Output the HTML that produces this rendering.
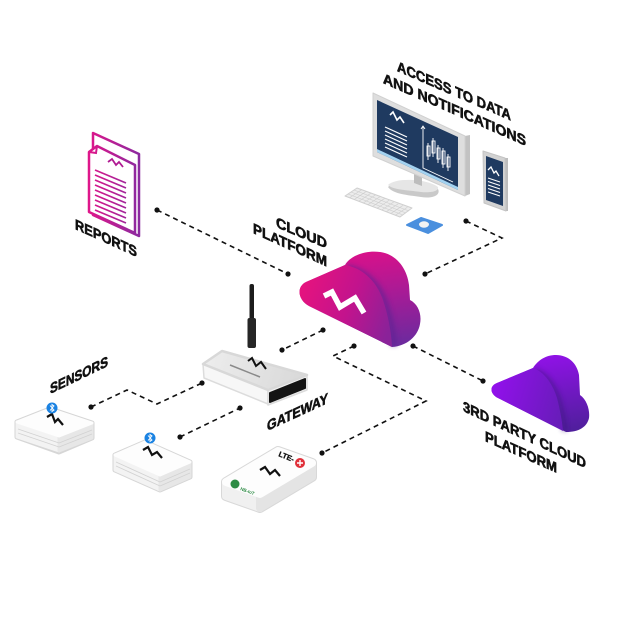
<!DOCTYPE html>
<html><head><meta charset="utf-8">
<style>html,body{margin:0;padding:0;background:#fff}svg{display:block}
text{font-family:"Liberation Sans",Arial,sans-serif;font-weight:bold;fill:#111}
.lb{stroke:#111;stroke-width:0.6}</style>
</head><body>
<svg width="620" height="620" viewBox="0 0 620 620" xmlns="http://www.w3.org/2000/svg">
<defs>
<linearGradient id="cExt" gradientUnits="userSpaceOnUse" x1="385" y1="250" x2="398" y2="345"><stop offset="0" stop-color="#d8118a"/><stop offset="0.5" stop-color="#a31c97"/><stop offset="1" stop-color="#6c2a9e"/></linearGradient>
<linearGradient id="cFront" gradientUnits="userSpaceOnUse" x1="298" y1="285" x2="392" y2="322"><stop offset="0" stop-color="#e8137d"/><stop offset="0.55" stop-color="#c2138d"/><stop offset="1" stop-color="#8a2299"/></linearGradient>
<linearGradient id="c2Ext" gradientUnits="userSpaceOnUse" x1="555" y1="355" x2="568" y2="432"><stop offset="0" stop-color="#9012e6"/><stop offset="1" stop-color="#4f1f9c"/></linearGradient>
<linearGradient id="c2Front" gradientUnits="userSpaceOnUse" x1="490" y1="390" x2="562" y2="412"><stop offset="0" stop-color="#9310ec"/><stop offset="1" stop-color="#681cba"/></linearGradient>
<linearGradient id="rep" gradientUnits="userSpaceOnUse" x1="88" y1="0" x2="140" y2="0"><stop offset="0" stop-color="#e0168a"/><stop offset="1" stop-color="#8a2aa0"/></linearGradient>
<linearGradient id="rtop" gradientUnits="userSpaceOnUse" x1="205" y1="355" x2="300" y2="385"><stop offset="0" stop-color="#ededed"/><stop offset="1" stop-color="#d9d9d9"/></linearGradient>
<filter id="bl" x="-20%" y="-20%" width="140%" height="140%"><feGaussianBlur stdDeviation="2.5"/></filter>
</defs>

<!-- connectors -->
<g stroke="#111" stroke-width="1.6" stroke-dasharray="5 4" fill="none">
<path d="M157,210 L288,274"/>
<path d="M466,221 L502,238 L425,274"/>
<path d="M413,346 L483,381"/>
<path d="M323,330 L282,350"/>
<path d="M354,346 L333,356 L426,401 L322,453"/>
<path d="M91,407 L127,390 L157,404 L202,383"/>
<path d="M180,437 L240,408"/>
</g>
<g fill="#111">
<circle cx="157" cy="210" r="2.6"/><circle cx="288" cy="274" r="2.6"/>
<circle cx="466" cy="221" r="2.6"/><circle cx="425" cy="274" r="2.6"/>
<circle cx="413" cy="346" r="2.6"/><circle cx="483" cy="381" r="2.6"/>
<circle cx="323" cy="330" r="2.6"/><circle cx="282" cy="350" r="2.6"/>
<circle cx="354" cy="346" r="2.6"/><circle cx="322" cy="453" r="2.6"/>
<circle cx="91" cy="407" r="2.6"/><circle cx="202" cy="383" r="2.6"/>
<circle cx="180" cy="437" r="2.6"/><circle cx="240" cy="408" r="2.6"/>
</g>

<!-- main cloud -->
<path d="M306,282 L345,265 C350,256 365,250 380,252 C396,254 407,268 409,285 L410,300 C418,304 422,314 420,324 C418,336 407,346 392,347 L309,306 C298,300 296,287 306,282 Z" fill="url(#cExt)"/>
<path d="M347,268 C364,271 378,283 385,303 C390,318 393,332 394,346" stroke="#5a2492" stroke-width="7" fill="none" opacity="0.55" filter="url(#bl)"/>
<path d="M306,282 L345,265 C362,268 376,280 383,300 C388,315 391,330 392,347 L309,306 C298,300 296,287 306,282 Z" fill="url(#cFront)"/>
<polyline points="324,296 332,292 340,307 355,298 364,313" fill="none" stroke="#fff" stroke-width="5.5"/>

<!-- 3rd party cloud -->
<path d="M497,383 L533,368 C538,360 546,355 556,355 C568,355 577,363 579,375 L580,395 C587,400 590,410 589,418 C587,427 579,432 566,432 L498,398 C490,394 489,386 497,383 Z" fill="url(#c2Ext)"/>
<path d="M535,371 C547,375 555,388 559,401 C562,413 564,422 565,431" stroke="#3c1880" stroke-width="6" fill="none" opacity="0.5" filter="url(#bl)"/>
<path d="M497,383 L533,368 C545,372 553,385 557,398 C560,410 562,420 563,431 L498,398 C490,394 489,386 497,383 Z" fill="url(#c2Front)"/>

<!-- reports -->
<polygon points="93,133 139,154 139,236 93,215" fill="#fff" stroke="url(#rep)" stroke-width="2.5" stroke-linejoin="round"/>
<path d="M97,146 L135,165 L135,233 L89,212 L89,152 Z" fill="#fff" stroke="url(#rep)" stroke-width="2.5" stroke-linejoin="round"/>
<path d="M97,146 L96,153 L89,152" fill="none" stroke="url(#rep)" stroke-width="2"/>
<polyline points="108,162 112,159 116,165 119,162 123,167" fill="none" stroke="#b01a92" stroke-width="1.8"/>
<g stroke="url(#rep)" stroke-width="1.7">
<line x1="95" y1="170" x2="126" y2="183"/><line x1="95" y1="175" x2="126" y2="188"/>
<line x1="95" y1="180" x2="126" y2="193"/><line x1="95" y1="185" x2="126" y2="198"/>
<line x1="95" y1="190" x2="126" y2="203"/><line x1="95" y1="195" x2="126" y2="208"/>
<line x1="95" y1="200" x2="126" y2="213"/><line x1="95" y1="205" x2="126" y2="218"/>
<line x1="95" y1="210" x2="126" y2="223"/>
</g>

<!-- monitor stand -->
<path d="M388,187 C396,179 428,181 438,189 C441,195 433,199 421,197 C407,195 393,194 388,187 Z" fill="#c9c9c9"/>
<path d="M388,185 C396,177 428,179 438,187 C439,191 432,193 421,192 C407,190 393,190 388,185 Z" fill="#e6e6e6"/>
<polygon points="414,170 422,174 422,186 414,183" fill="#bdbdbd"/>
<!-- monitor -->
<polygon points="465,136 470,135 470,194 465,196" fill="#c2c2c2"/>
<polygon points="373,93 465,136 465,196 373,156" fill="#dedede" stroke="#d0d0d0" stroke-width="1" stroke-linejoin="round"/>
<polygon points="377,100 458,137 458,190 377,152" fill="#1f3a60"/>
<polygon points="377,149 458,187 458,190 377,152" fill="#a3d2f0"/>
<polyline points="390,115 393,112 397,120 400,117 404,123" fill="none" stroke="#fff" stroke-width="1.6"/>
<g stroke="#fff" stroke-width="1.2">
<line x1="385" y1="127" x2="407" y2="137"/><line x1="385" y1="131" x2="407" y2="141"/>
<line x1="385" y1="135" x2="407" y2="145"/><line x1="385" y1="139" x2="407" y2="149"/>
<line x1="385" y1="143" x2="407" y2="153"/><line x1="385" y1="147" x2="407" y2="157"/>
</g>
<g stroke="#fff" stroke-width="0.9" fill="none">
<path d="M423,126 L423,168 L453,182"/><path d="M421,129 L423,126 L425,129"/>
<rect x="427" y="146" width="3" height="10"/><rect x="432" y="141" width="3" height="12"/>
<rect x="437" y="148" width="3" height="11"/><rect x="442" y="151" width="3" height="13"/>
<rect x="447" y="157" width="3" height="10"/>
<path d="M428,143 L428,160 M433,138 L433,157 M438,145 L438,163 M443,148 L443,168 M448,154 L448,171"/>
</g>
<!-- keyboard -->
<polygon points="345,196 357,188 412,208 400,217" fill="#ececec" stroke="#cfcfcf" stroke-width="1" stroke-linejoin="round"/>
<g stroke="#cdcdcd" stroke-width="0.6">
<line x1="348" y1="194" x2="403" y2="215"/><line x1="351" y1="192" x2="406" y2="213"/><line x1="354" y1="190" x2="409" y2="211"/>
<line x1="349.6" y1="197.8" x2="361.6" y2="189.8"/><line x1="354.2" y1="199.5" x2="366.2" y2="191.5"/>
<line x1="358.8" y1="201.3" x2="370.8" y2="193.3"/><line x1="363.3" y1="203" x2="375.3" y2="195"/>
<line x1="367.9" y1="204.8" x2="379.9" y2="196.8"/><line x1="372.5" y1="206.5" x2="384.5" y2="198.5"/>
<line x1="377.1" y1="208.3" x2="389.1" y2="200.3"/><line x1="381.7" y1="210" x2="393.7" y2="202"/>
<line x1="386.3" y1="211.8" x2="398.3" y2="203.8"/><line x1="390.8" y1="213.5" x2="402.8" y2="205.5"/>
<line x1="395.4" y1="215.3" x2="407.4" y2="207.3"/>
</g>
<!-- mouse pad -->
<polygon points="407,225 421,218 442,225 428,233" fill="#4a8fde" stroke="#4a8fde" stroke-width="2" stroke-linejoin="round"/>
<ellipse cx="424" cy="224.5" rx="5" ry="3.2" fill="#f2f2f2"/>
<!-- phone -->
<polygon points="505,158 508,158 508,211 506,211" fill="#bdbdbd"/>
<polygon points="483,151 505,158 506,211 484,203" fill="#d2d2d2" stroke="#c4c4c4" stroke-width="1" stroke-linejoin="round"/>
<polygon points="486,156 503,162 503,206 486,200" fill="#1f3a60"/>
<polyline points="488,170 491,167 494,173 496,171 499,176" fill="none" stroke="#fff" stroke-width="1.3"/>
<g stroke="#fff" stroke-width="1">
<line x1="488" y1="178" x2="500" y2="182"/><line x1="488" y1="181.5" x2="500" y2="185.5"/>
<line x1="488" y1="185" x2="500" y2="189"/><line x1="488" y1="188.5" x2="500" y2="192.5"/>
<line x1="488" y1="192" x2="500" y2="196"/>
</g>

<!-- router -->
<rect x="249.5" y="284" width="4.5" height="40" rx="2" fill="#1c1c1c"/>
<rect x="247.5" y="318" width="8.5" height="30" rx="2" fill="#262626"/>
<g stroke-linejoin="round">
<polygon points="203,364 268,390 268,404 204,378" fill="#f7f7f7" stroke="#dcdcdc" stroke-width="1.5"/>
<polygon points="268,390 307,375 307,390 268,405" fill="#f0f0f0" stroke="#dcdcdc" stroke-width="1.5"/>
<polygon points="270,393 305,379 305,388 270,402" fill="#141414" stroke="#141414" stroke-width="2"/>
<polygon points="203,364 222,351 307,375 268,390" fill="url(#rtop)" stroke="#d8d8d8" stroke-width="2.5"/>
</g>
<line x1="230" y1="365" x2="260" y2="377" stroke="#8a8a8a" stroke-width="1.5"/>
<polyline points="248,361 252,358 256,366 261,362 266,369" fill="none" stroke="#111" stroke-width="2"/>

<!-- sensor 1 -->
<g stroke-linejoin="round">
<polygon points="17,422 50,409 92,423 92,438 59,452 17,437" fill="#d6d6d6" stroke="#d6d6d6" stroke-width="5"/>
<polygon points="17,422 59,436 59,451 17,437" fill="#f3f3f3" stroke="#f3f3f3" stroke-width="3"/>
<polygon points="59,436 92,423 92,438 59,451" fill="#e7e7e7" stroke="#e7e7e7" stroke-width="3"/>
<polygon points="17,422 50,409 92,423 59,436" fill="#fdfdfd" stroke="#fdfdfd" stroke-width="3"/>
</g>
<g stroke="#d2d2d2" stroke-width="0.8">
<line x1="18" y1="429" x2="59" y2="443"/><line x1="18" y1="433" x2="59" y2="447"/>
<line x1="59" y1="443" x2="92" y2="430"/><line x1="59" y1="447" x2="92" y2="434"/>
</g>
<polyline points="47,417 52,414 55,422 58,419 63,425" fill="none" stroke="#111" stroke-width="2.2"/>
<circle cx="52" cy="408" r="5.5" fill="#1a82e2"/>
<path d="M50,405.5 L54,410 L52,411.5 L52,404.5 L54,406 L50,410.5" fill="none" stroke="#fff" stroke-width="0.9"/>

<!-- sensor 2 -->
<g stroke-linejoin="round">
<polygon points="115,455 145,442 190,462 190,477 160,490 115,470" fill="#d6d6d6" stroke="#d6d6d6" stroke-width="5"/>
<polygon points="115,455 160,475 160,490 115,470" fill="#f3f3f3" stroke="#f3f3f3" stroke-width="3"/>
<polygon points="160,475 190,462 190,477 160,490" fill="#e7e7e7" stroke="#e7e7e7" stroke-width="3"/>
<polygon points="115,455 145,442 190,462 160,475" fill="#fdfdfd" stroke="#fdfdfd" stroke-width="3"/>
</g>
<g stroke="#d2d2d2" stroke-width="0.8">
<line x1="116" y1="462" x2="160" y2="482"/><line x1="116" y1="466" x2="160" y2="486"/>
<line x1="160" y1="482" x2="190" y2="469"/><line x1="160" y1="486" x2="190" y2="473"/>
</g>
<polyline points="143,450 148,447 152,455 157,452 162,458" fill="none" stroke="#111" stroke-width="2.2"/>
<circle cx="150" cy="438" r="5.5" fill="#1a82e2"/>
<path d="M148,435.5 L152,440 L150,441.5 L150,434.5 L152,436 L148,440.5" fill="none" stroke="#fff" stroke-width="0.9"/>

<!-- LTE device -->
<g stroke-linejoin="round">
<polygon points="226,482 278,451 312,463 312,477 260,508 226,496" fill="#d8d8d8" stroke="#d8d8d8" stroke-width="10"/>
<polygon points="226,482 260,494 260,508 226,496" fill="#f0f0f0" stroke="#f0f0f0" stroke-width="8"/>
<polygon points="260,494 312,463 312,477 260,508" fill="#e4e4e4" stroke="#e4e4e4" stroke-width="8"/>
<polygon points="226,482 278,451 312,463 260,494" fill="#fdfdfd" stroke="#fdfdfd" stroke-width="8"/>
</g>
<polyline points="260,470 265,467 270,474 275,470 280,476" fill="none" stroke="#111" stroke-width="2.2"/>
<text x="0" y="0" font-size="7.5" class="lb" style="stroke-width:0.3" transform="translate(278,456) rotate(22)">LTE-</text>
<circle cx="300" cy="463" r="5" fill="#e0303a"/>
<path d="M297,463 L303,463 M300,460 L300,466" stroke="#fff" stroke-width="1.4"/>
<circle cx="235" cy="484" r="4.5" fill="#2e8b45"/>
<text x="0" y="0" font-size="4.5" style="fill:#2e8b45" transform="translate(240,490) rotate(20)">NB-IoT</text>

<!-- labels -->
<text class="lb" x="0" y="0" font-size="14.5" textLength="114" lengthAdjust="spacingAndGlyphs" transform="translate(397,71) skewY(23.5)">ACCESS TO DATA</text>
<text class="lb" x="0" y="0" font-size="14.5" textLength="143" lengthAdjust="spacingAndGlyphs" transform="translate(383,83) skewY(23.8)">AND NOTIFICATIONS</text>
<text class="lb" x="0" y="0" font-size="14.5" textLength="62" lengthAdjust="spacingAndGlyphs" transform="translate(75,229) skewY(24.3)">REPORTS</text>
<text class="lb" x="0" y="0" font-size="14.5" textLength="51" lengthAdjust="spacingAndGlyphs" transform="translate(276,227) skewY(23)">CLOUD</text>
<text class="lb" x="0" y="0" font-size="14.5" textLength="74" lengthAdjust="spacingAndGlyphs" transform="translate(253,233) skewY(24.5)">PLATFORM</text>
<text class="lb" x="0" y="0" font-size="14.5" textLength="123" lengthAdjust="spacingAndGlyphs" transform="translate(463,411) skewY(25)">3RD PARTY CLOUD</text>
<text class="lb" x="0" y="0" font-size="14.5" textLength="72" lengthAdjust="spacingAndGlyphs" transform="translate(485,441) skewY(24)">PLATFORM</text>
<text class="lb" x="0" y="0" font-size="14.5" textLength="58" lengthAdjust="spacingAndGlyphs" transform="translate(50,394) skewY(-25.8)">SENSORS</text>
<text class="lb" x="0" y="0" font-size="14.5" textLength="61" lengthAdjust="spacingAndGlyphs" transform="translate(267,431) skewY(-24.7)">GATEWAY</text>
</svg>
</body></html>
